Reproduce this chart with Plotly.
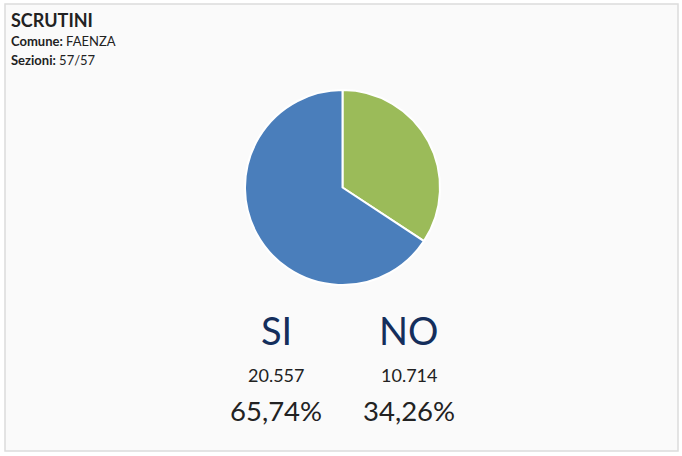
import plotly.graph_objects as go

labels = ["NO", "SI"]
votes = [10714, 20557]
colors = ["#9bbb59", "#4a7ebb"]

title = "SCRUTINI"
comune = "FAENZA"
sezioni = "57/57"

total = sum(votes)


def fmt_int(n):
    return f"{n:,}".replace(",", ".")


def fmt_pct(v):
    return f"{v / total * 100:.2f}".replace(".", ",") + "%"


W, H = 682, 456

fig = go.Figure(go.Pie(
    labels=labels,
    values=votes,
    sort=False,
    direction="clockwise",
    rotation=0,
    marker=dict(colors=colors, line=dict(color="white", width=2)),
    textinfo="none",
    hoverinfo="label+value+percent",
    showlegend=False,
    domain=dict(x=[245 / W, 440 / W], y=[1 - 285 / H, 1 - 90 / H]),
))

font = "Lato, 'Open Sans', sans-serif"
ann = [
    dict(x=9 / W, y=1 - 20 / H, text="<b>" + title + "</b>", font=dict(size=18, color="#222")),
    dict(x=9 / W, y=1 - 41 / H, text="<b>Comune:</b> " + comune, font=dict(size=13, color="#222")),
    dict(x=9 / W, y=1 - 60 / H, text="<b>Sezioni:</b> " + sezioni, font=dict(size=13, color="#222")),
]
for lab, xc in zip(["SI", "NO"], [276, 408.5]):
    i = labels.index(lab)
    ann.append(dict(x=xc / W, y=1 - 330 / H, text=lab, xanchor="center",
                    font=dict(size=38, color="#142e5c")))
    ann.append(dict(x=xc / W, y=1 - 375 / H, text=fmt_int(votes[i]), xanchor="center",
                    font=dict(size=18, color="#222")))
    ann.append(dict(x=xc / W, y=1 - 410 / H, text=fmt_pct(votes[i]), xanchor="center",
                    font=dict(size=27.5, color="#222")))
for a in ann:
    a.setdefault("xanchor", "left")
    a.update(xref="paper", yref="paper", yanchor="middle", showarrow=False)
    a["font"]["family"] = font

fig.update_layout(
    width=W, height=H,
    margin=dict(l=0, r=0, t=0, b=0),
    paper_bgcolor="white",
    annotations=ann,
    shapes=[dict(type="rect", xref="paper", yref="paper",
                 x0=5 / W, x1=678 / W, y0=1 - 451 / H, y1=1 - 4 / H,
                 fillcolor="#fafafa", line=dict(color="#dcdcdc", width=1.5),
                 layer="below")],
)

fig.write_html("out.html", config={"displayModeBar": False},
               post_script="document.body.style.margin='0';")
